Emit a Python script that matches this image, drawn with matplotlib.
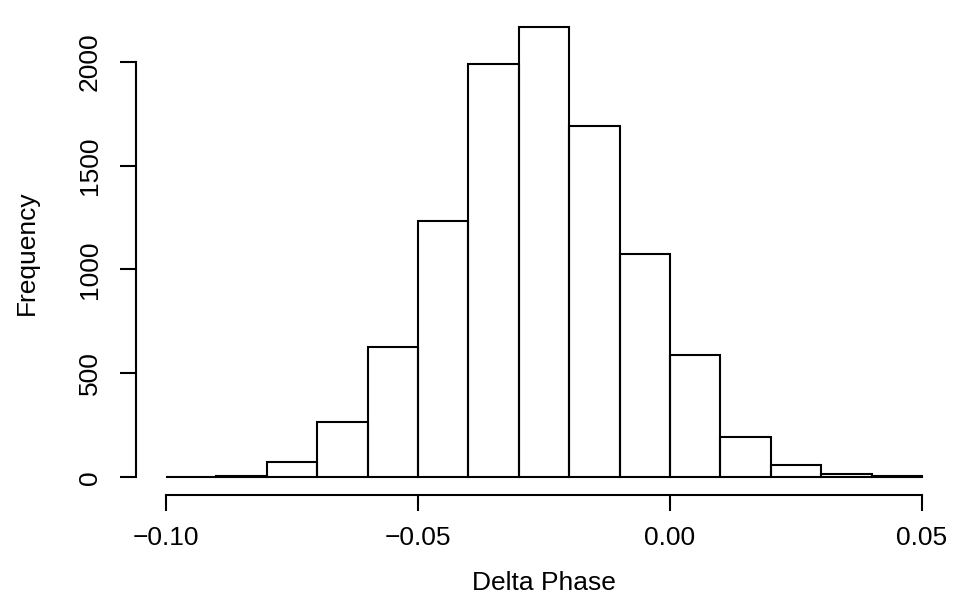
import numpy as np
import matplotlib
matplotlib.use("Agg")
import matplotlib.pyplot as plt

# Histogram bins (Delta Phase) and counts
bin_edges = [-0.10, -0.09, -0.08, -0.07, -0.06, -0.05, -0.04, -0.03,
             -0.02, -0.01, 0.00, 0.01, 0.02, 0.03, 0.04, 0.05]
counts = [1, 6, 72, 266, 627, 1235, 1990, 2166, 1692, 1073, 590, 194, 60, 16, 6]
x_ticks = [-0.10, -0.05, 0.00, 0.05]
x_tick_labels = ["\u22120.10", "\u22120.05", "0.00", "0.05"]
y_ticks = [0, 500, 1000, 1500, 2000]
y_tick_labels = ["0", "500", "1000", "1500", "2000"]

plt.rcParams['font.family'] = ['Liberation Sans', 'DejaVu Sans']

W, H = 954, 616
fig = plt.figure(figsize=(W / 100, H / 100), dpi=100)
left_px, right_px, top_px, bot_px = 135.8, 952.2, 9.2, 495.3
ax = fig.add_axes([left_px / W, 1 - bot_px / H, (right_px - left_px) / W, (bot_px - top_px) / H])

edges = np.array(bin_edges)
widths = np.diff(edges)
ax.bar(edges[:-1], counts, width=widths, align='edge', fill=False,
       edgecolor='black', linewidth=1.5)

xr = bin_edges[-1] - bin_edges[0]
ax.set_xlim(bin_edges[0] - 0.04 * xr, bin_edges[-1] + 0.04 * xr)
M = max(counts)
ax.set_ylim(-0.04 * M, 1.04 * M)

for s in ['top', 'right']:
    ax.spines[s].set_visible(False)
ax.spines['bottom'].set_bounds(x_ticks[0], x_ticks[-1])
ax.spines['left'].set_bounds(y_ticks[0], y_ticks[-1])
for s in ['bottom', 'left']:
    ax.spines[s].set_linewidth(1.5)

ax.set_xticks(x_ticks)
ax.set_xticklabels(x_tick_labels)
ax.set_yticks(y_ticks)
ax.set_yticklabels(y_tick_labels, rotation=90, va='center')
ax.tick_params(axis='both', direction='out', length=11.3, width=1.5,
               labelsize=19)
ax.tick_params(axis='x', pad=11)
ax.tick_params(axis='y', pad=13)

ax.set_xlabel("Delta Phase", fontsize=19, labelpad=15)
ax.set_ylabel("Frequency", fontsize=19, labelpad=28)

fig.savefig("out.png", dpi=100)
